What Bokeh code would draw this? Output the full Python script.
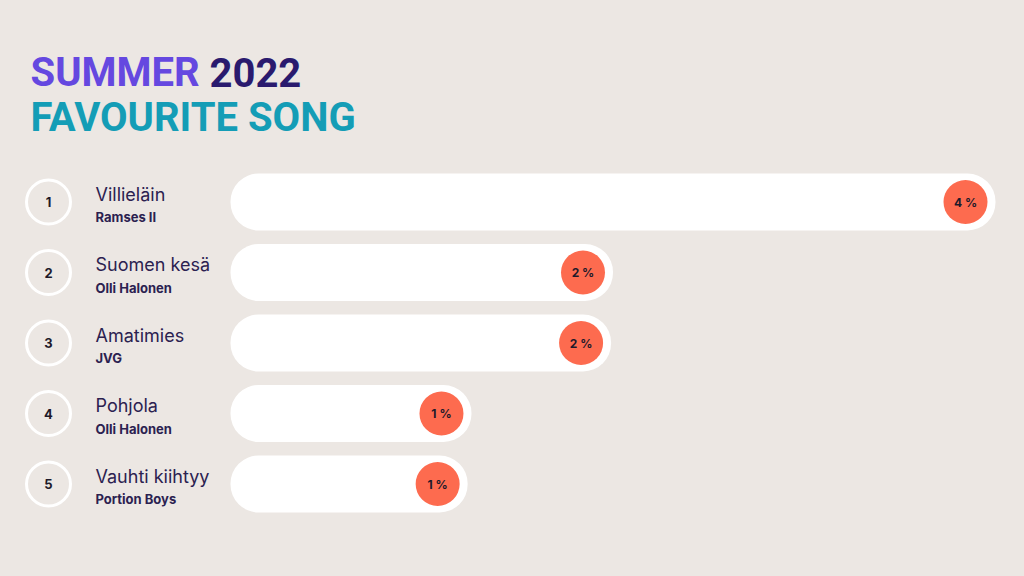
from bokeh.plotting import figure
from bokeh.models import Range1d, ColumnDataSource
from bokeh.embed import file_html
from bokeh.resources import INLINE
from bokeh.core.properties import value

# ---- data ----
ranks = [1, 2, 3, 4, 5]
songs = ["Villieläin", "Suomen kesä", "Amatimies", "Pohjola", "Vauhti kiihtyy"]
artists = ["Ramses II", "Olli Halonen", "JVG", "Olli Halonen", "Portion Boys"]
shares = [4.0, 2.0, 1.99, 1.26, 1.24]
labels = [f"{round(v)} %" for v in shares]
title_words = ["SUMMER", "2022"]
subtitle = "FAVOURITE SONG"

# ---- style / layout ----
BG = "#ECE7E3"
DARK = "#2B2150"
W, H = 1008, 560
X0_PX = 230        # bar origin (px)
SCALE = 191.25     # px per percentage point
ROW0 = 201.5       # px from top of first row centre
ROW_H = 70.5       # px between rows
BADGE_BACK = 30    # px from bar end to badge centre
FONT = value("Inter")
TFONT = value("Roboto")

src = ColumnDataSource(dict(
    rank=ranks, song=songs, artist=artists, share=shares, label=labels,
    rank_txt=[str(r) for r in ranks],
    badge_x=[v - BADGE_BACK / SCALE for v in shares],
))

p = figure(width=W, height=H, output_backend="svg", toolbar_location=None,
           x_range=Range1d(-X0_PX / SCALE, (W - X0_PX) / SCALE),
           y_range=Range1d(1 + (H - ROW0) / ROW_H, 1 - ROW0 / ROW_H),
           x_axis_type=None, y_axis_type=None, min_border=0,
           background_fill_color=BG, border_fill_color=BG, outline_line_color=None)
p.grid.visible = False
p.extra_x_ranges = {"px": Range1d(0, W)}
p.extra_y_ranges = {"py": Range1d(H, 0)}

# bars (pills)
p.hbar(y="rank", left=0, right="share", height=57 / ROW_H, source=src,
       fill_color="white", line_color=None, border_radius=28)

# value badges
p.circle(x="badge_x", y="rank", radius=22, radius_units="screen", source=src,
         fill_color="#FD6B4F", line_color=None)
p.text(x="badge_x", y="rank", text="label", source=src, text_align="center",
       text_baseline="middle", text_font=FONT, text_font_size="12px",
       text_font_style="bold", text_color="#1E1A2A")

# rank circles
p.circle(x=48, y="rank", radius=22, radius_units="screen",
         source=src, x_range_name="px", fill_alpha=0, line_color="white",
         line_width=3)
p.text(x=48, y="rank", text="rank_txt", source=src, x_range_name="px",
       text_align="center", text_baseline="middle", text_font=FONT,
       text_font_size="13px", text_font_style="bold", text_color="#1E1A2A")

# song names and artists
p.text(x=95, y="rank", text="song", source=src, x_range_name="px",
       text_align="left", text_baseline="middle", y_offset=-8,
       text_font=FONT, text_font_size="18px", text_color=DARK)
p.text(x=95, y="rank", text="artist", source=src, x_range_name="px",
       text_align="left", text_baseline="middle", y_offset=15,
       text_font=FONT, text_font_size="13px", text_font_style="bold",
       text_color=DARK)

# title
p.text(x=[30], y=[72], text=[title_words[0]], x_range_name="px", y_range_name="py",
       text_font=TFONT, text_font_size="40px", text_font_style="bold",
       text_color="#6548E0", text_baseline="middle")
p.text(x=[209], y=[72], text=[title_words[1]], x_range_name="px", y_range_name="py",
       text_font=TFONT, text_font_size="40px", text_font_style="bold",
       text_color="#2A1A6E", text_baseline="middle")
p.text(x=[30], y=[117], text=[subtitle], x_range_name="px", y_range_name="py",
       text_font=TFONT, text_font_size="40px", text_font_style="bold",
       text_color="#149DB6", text_baseline="middle")

html = file_html(p, INLINE)
html = html.replace("</head>", "<style>body{background:%s;}</style></head>" % BG, 1)
open("out.html", "w").write(html)
